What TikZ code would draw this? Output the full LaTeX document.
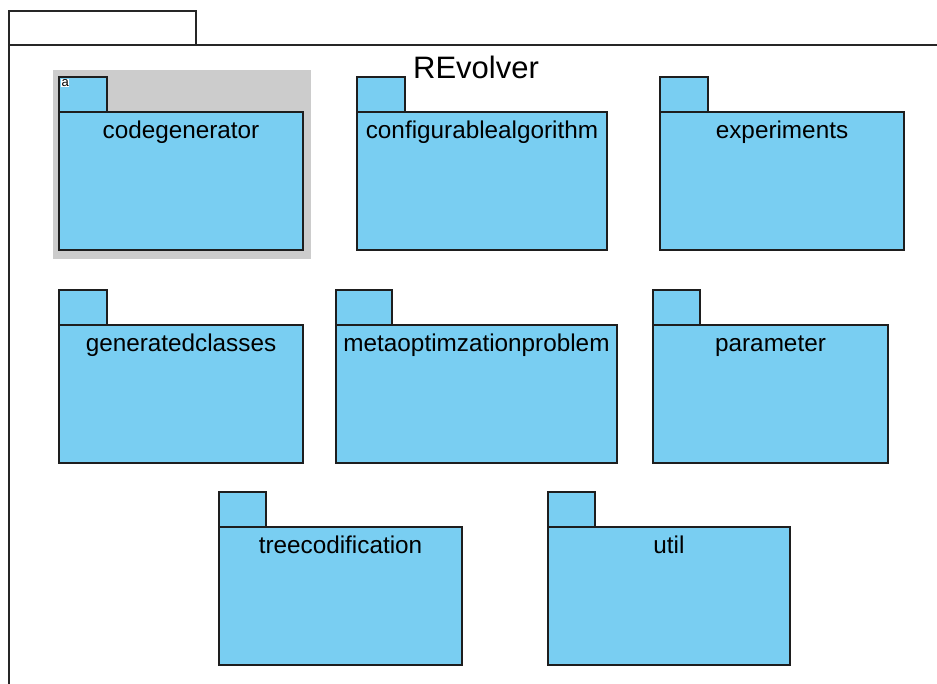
\documentclass[tikz,border=0pt]{standalone}
\usepackage{fontspec}
\setmainfont{Liberation Sans}
\definecolor{pkgblue}{RGB}{121,206,242}
\definecolor{pkgline}{RGB}{30,30,30}
\definecolor{selgray}{RGB}{204,204,204}
\tikzset{
  pkgshape/.style={draw=pkgline, fill=pkgblue, line width=1.4pt},
  frameline/.style={draw=black!85, line width=1.4pt},
  pkglabel/.style={anchor=base, inner sep=0pt, font=\fontsize{24.3}{24.3}\selectfont},
}
% \umlpkg{name}{left}{right}{tab right}{tab top}{label}
\newcommand{\umlpkg}[6]{%
  \path[pkgshape] (#2,#5) rectangle (#4,#5+35);
  \path[pkgshape] (#2,#5+35) rectangle (#3,#5+173);
  \node[pkglabel] (#1) at ({(#2+#3)/2},#5+61) {#6};
}
\begin{document}
\begin{tikzpicture}[x=1pt,y=-1pt]
\useasboundingbox (0,0) rectangle (937,683);
% outer package frame
\draw[frameline] (9,45) -- (9,11) -- (196,11) -- (196,45);
\draw[frameline] (937,45) -- (9,45) -- (9,684);
\node[anchor=base, inner sep=0pt, font=\fontsize{31}{31}\selectfont] (title) at (476,78) {REvolver};
% selection highlight
\fill[selgray] (53,70) rectangle (311,259);
% packages
\umlpkg{codegen}{59}{303}{107}{77}{codegenerator}
\umlpkg{confalg}{357}{607}{405}{77}{configurablealgorithm}
\umlpkg{experiments}{660}{904}{708}{77}{experiments}
\umlpkg{genclasses}{59}{303}{107}{290}{generatedclasses}
\umlpkg{metaopt}{336}{617}{392}{290}{metaoptimzationproblem}
\umlpkg{parameter}{653}{888}{700}{290}{parameter}
\umlpkg{treecod}{219}{462}{266}{492}{treecodification}
\umlpkg{util}{548}{790}{595}{492}{util}
% small marker in the selected tab
\node[fill=white, inner sep=0.5pt, anchor=north west, font=\fontsize{13}{13}\selectfont] (mark) at (61,78.5) {a};
\end{tikzpicture}
\end{document}
